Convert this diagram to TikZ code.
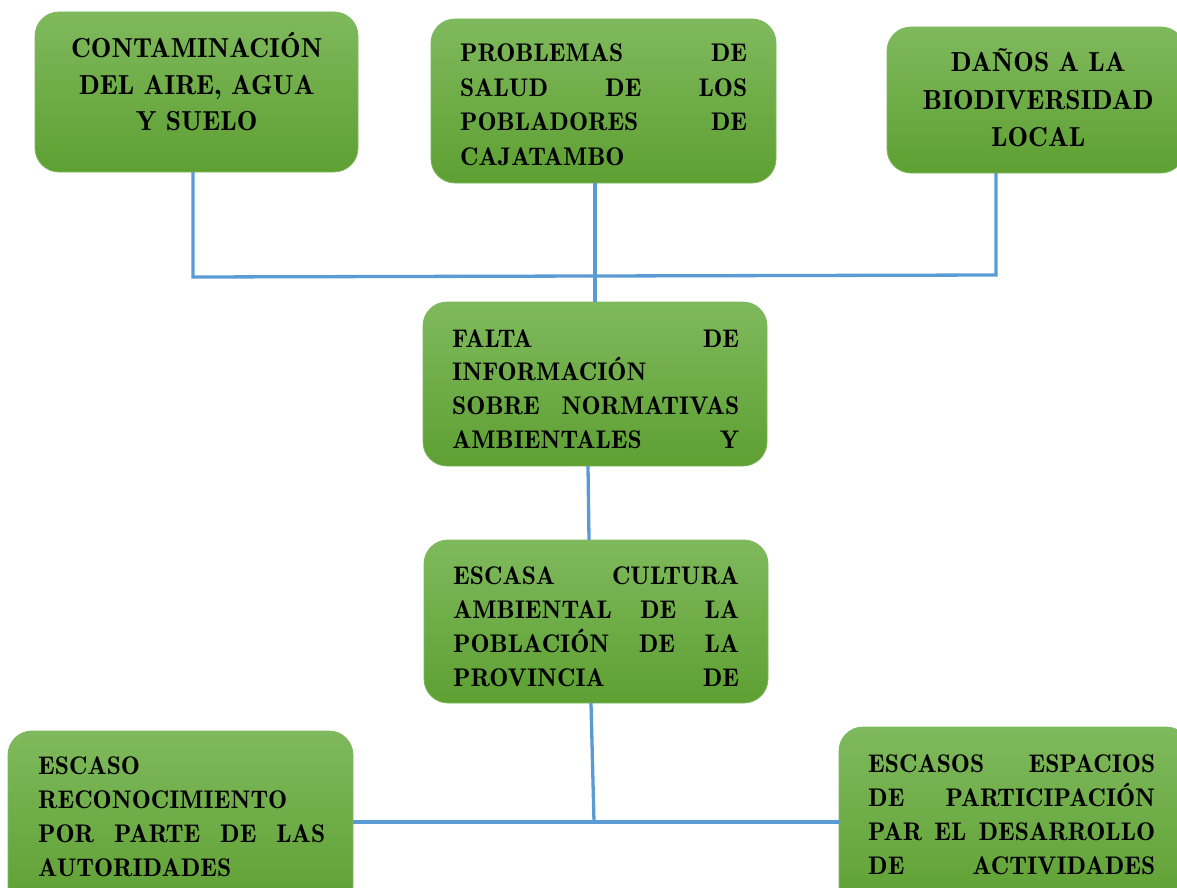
\documentclass[tikz,border=0pt]{standalone}
\usetikzlibrary{calc}
\definecolor{gtop}{RGB}{127,185,93}
\definecolor{gbot}{RGB}{94,160,50}
\definecolor{gedge}{RGB}{125,185,95}
\definecolor{lblue}{RGB}{91,155,213}
\newcommand\boxfont[1]{\fontsize{#1}{#1}\fontseries{b}\selectfont}
\newcommand\jl[2]{\hbox to #1{#2}}
\tikzset{
  greenbox/.style={rounded corners=24pt, top color=gtop, bottom color=gbot, draw=gedge, line width=0.8pt},
  boxtext/.style={inner sep=0pt, anchor=base west, text=black},
  link/.style={draw=lblue, line width=3.3pt}
}
\begin{document}
\begin{tikzpicture}[x=1pt,y=-1pt]
\useasboundingbox (0,0) rectangle (1177,888);
\clip (0,0) rectangle (1177,888);
% boxes
\path[greenbox] (35,12) rectangle (358,172);
\path[greenbox] (431,19) rectangle (776,183);
\path[greenbox] (887,27) rectangle (1185,173);
\path[greenbox] (423,302) rectangle (767,466);
\path[greenbox] (424,540) rectangle (768,703);
\path[greenbox] (8,731) rectangle (353,910);
\path[greenbox] (839,727) rectangle (1190,910);
% named nodes covering the boxes, for the connectors
\node[inner sep=0pt, minimum width=323pt, minimum height=160pt] (b1) at (196.5,92) {};
\node[inner sep=0pt, minimum width=345pt, minimum height=164pt] (b2) at (603.5,101) {};
\node[inner sep=0pt, minimum width=298pt, minimum height=146pt] (b3) at (1036,100) {};
\node[inner sep=0pt, minimum width=344pt, minimum height=164pt] (b4) at (595,384) {};
\node[inner sep=0pt, minimum width=344pt, minimum height=163pt] (b5) at (596,621.5) {};
\node[inner sep=0pt, minimum width=345pt, minimum height=179pt] (b6) at (180.5,820.5) {};
\node[inner sep=0pt, minimum width=351pt, minimum height=183pt] (b7) at (1014.5,818.5) {};
% texts
\node[boxtext] (t1) at (196.5-130,58) {\boxfont{27.5}\vtop{\baselineskip=36.5pt
  \jl{260pt}{\hfil CONTAMINACIÓN\hfil}
  \jl{260pt}{\hfil DEL AIRE, AGUA\hfil}
  \jl{260pt}{\hfil Y SUELO\hfil}}};
\node[boxtext] (t2) at (460,62) {\boxfont{25.5}\vtop{\baselineskip=34.5pt
  \jl{287pt}{PROBLEMAS\hfill DE}
  \jl{287pt}{SALUD\hfill DE\hfill LOS}
  \jl{287pt}{POBLADORES\hfill DE}
  \jl{287pt}{CAJATAMBO\hfill}}};
\node[boxtext] (t3) at (1038-130,72) {\boxfont{27.5}\vtop{\baselineskip=37.5pt
  \jl{260pt}{\hfil DAÑOS A LA\hfil}
  \jl{260pt}{\hfil BIODIVERSIDAD\hfil}
  \jl{260pt}{\hfil LOCAL\hfil}}};
\node[boxtext] (t4) at (452,347) {\boxfont{25.5}\vtop{\baselineskip=33.7pt
  \jl{287pt}{FALTA\hfill DE}
  \jl{287pt}{INFORMACIÓN\hfill}
  \jl{287pt}{SOBRE\hfill NORMATIVAS}
  \jl{287pt}{AMBIENTALES\hfill Y}}};
\node[boxtext] (t5) at (453,584) {\boxfont{25.5}\vtop{\baselineskip=34pt
  \jl{286pt}{ESCASA\hfill CULTURA}
  \jl{286pt}{AMBIENTAL\hfill DE\hfill LA}
  \jl{286pt}{POBLACIÓN\hfill DE\hfill LA}
  \jl{286pt}{PROVINCIA\hfill DE}}};
\node[boxtext] (t6) at (38,774) {\boxfont{25.5}\vtop{\baselineskip=34pt
  \jl{287pt}{ESCASO\hfill}
  \jl{287pt}{RECONOCIMIENTO\hfill}
  \jl{287pt}{POR\hfill PARTE\hfill DE\hfill LAS}
  \jl{287pt}{AUTORIDADES\hfill}}};
\node[boxtext] (t7) at (868,772) {\boxfont{25.5}\vtop{\baselineskip=34.3pt
  \jl{287pt}{ESCASOS\hfill ESPACIOS}
  \jl{287pt}{DE\hfill PARTICIPACIÓN}
  \jl{287pt}{PAR\hfill EL\hfill DESARROLLO}
  \jl{287pt}{DE\hfill ACTIVIDADES}}};
% connectors
\coordinate (k1) at (193,277);
\coordinate (k3) at (996,275);
\coordinate (j1) at (595,276);
\coordinate (j2) at (594,822);
\draw[link] (k1 |- b1.south) -- (k1) -- (k3) -- (k3 |- b3.south);
\draw[link] (b2.south -| j1) -- (b4.north -| j1);
\draw[link] ([xshift=-7pt]b4.south) -- ([xshift=-7pt]b5.north);
\draw[link] ([xshift=-5pt]b5.south) -- (j2);
\draw[link] (b6.east |- j2) -- (b7.west |- j2);
\end{tikzpicture}
\end{document}
